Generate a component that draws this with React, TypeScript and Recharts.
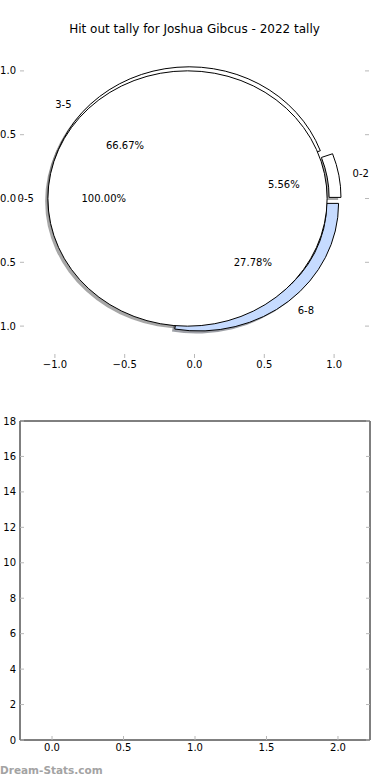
import React from 'react';
import { PieChart, Pie, Cell, ScatterChart, Scatter, XAxis, YAxis } from 'recharts';

const TITLE = 'Hit out tally for Joshua Gibcus - 2022 tally';
const WATERMARK = 'Dream-Stats.com';

const outerNames = ['0-2', '3-5', '6-8'];
const outerValues = [1, 12, 5];
const outerColors = ['#ffffff', '#ffffff', '#c6dbff'];
const innerNames = ['0-5'];
const innerValues = [18];
const innerColors = ['#ffffff'];

const pieTicks = [-1, -0.5, 0, 0.5, 1];
const barXTicks = [0, 0.5, 1, 1.5, 2];
const barYTicks = [0, 2, 4, 6, 8, 10, 12, 14, 16, 18];
const barPoints: { x: number; y: number }[] = [];

const outerData = outerNames.map((name, i) => ({ name, value: outerValues[i] }));
const innerData = innerNames.map((name, i) => ({ name, value: innerValues[i] }));

const W = 390;
const H = 390;
const FONT = '"DejaVu Sans", Verdana, sans-serif';
const GRAY = '#b8b8b8';

// top panel layout
const TOP_MARGIN = { top: 29, right: 20, bottom: 0, left: 0 };
const Y_W = 20;
const RY_W = 1;
const TOP_XH = 10;
const BOT_XH = 32;
const plotL = TOP_MARGIN.left + Y_W;
const plotR = W - TOP_MARGIN.right - RY_W;
const plotT = TOP_MARGIN.top + TOP_XH;
const plotB = H - TOP_MARGIN.bottom - BOT_XH;
const LIM = 1.25;
const PX_X = (plotR - plotL) / (2 * LIM);
const PX_Y = (plotB - plotT) / (2 * LIM);
const CX = (plotL + plotR) / 2;
const CY = (plotT + plotB) / 2;
const KY = PX_Y / PX_X;

// pie geometry (data units)
const R_OUT = 1.0;
const RING_W = 0.085;
const R_IN = 1.0;
const EXPLODE = 0.05;
const SHADOW = 0.02;
const LABEL_D = 1.1;
const PCT_D = 0.6;
const RAD = Math.PI / 180;

// bottom panel layout
const B_MARGIN = { top: 21, right: 19, bottom: 15, left: 0 };
const B_TOP_XH = 10;
const B_BOT_XH = 25;
const B_XDOMAIN: [number, number] = [-0.224, 2.224];

const fmtSigned = (v: number) => (v < 0 ? '\u2212' : '') + Math.abs(v).toFixed(1);

function sectorPath(cx: number, cy: number, r0: number, r1: number, a0: number, a1: number) {
  const pt = (r: number, a: number) => [cx + r * Math.cos(a * RAD), cy - r * KY * Math.sin(a * RAD)];
  const span = a1 - a0;
  if (span >= 359.999) {
    const full = (r: number, sweep: number) =>
      `M${cx + r},${cy} A${r},${r * KY} 0 1 ${sweep} ${cx - r},${cy} A${r},${r * KY} 0 1 ${sweep} ${cx + r},${cy} Z`;
    return r0 > 0 ? full(r1, 0) + ' ' + full(r0, 1) : full(r1, 0);
  }
  const large = span > 180 ? 1 : 0;
  const [x0, y0] = pt(r1, a0);
  const [x1, y1] = pt(r1, a1);
  let d = `M${x0},${y0} A${r1},${r1 * KY} 0 ${large} 0 ${x1},${y1}`;
  if (r0 > 0) {
    const [x2, y2] = pt(r0, a1);
    const [x3, y3] = pt(r0, a0);
    d += ` L${x2},${y2} A${r0},${r0 * KY} 0 ${large} 1 ${x3},${y3} Z`;
  } else {
    d += ` L${cx},${cy} Z`;
  }
  return d;
}

function shadowColor(hex: string) {
  const n = parseInt(hex.slice(1), 16);
  const r = Math.round(((n >> 16) & 255) * 0.3);
  const g = Math.round(((n >> 8) & 255) * 0.3);
  const b = Math.round((n & 255) * 0.3);
  return `rgb(${r},${g},${b})`;
}

const drawWedge = (shadow: boolean) => (props: any) => {
  const { cx, cy, innerRadius, outerRadius, startAngle, endAngle, fill } = props;
  const mid = (startAngle + endAngle) / 2;
  let ox = cx + EXPLODE * PX_X * Math.cos(mid * RAD);
  let oy = cy - EXPLODE * PX_Y * Math.sin(mid * RAD);
  if (shadow) {
    ox -= SHADOW * PX_X;
    oy += SHADOW * PX_Y;
  }
  const d = sectorPath(ox, oy, innerRadius, outerRadius, startAngle, endAngle);
  return shadow ? (
    <path d={d} fill={fill} fillOpacity={0.5} stroke="none" fillRule="evenodd" filter="url(#pieShadowBlur)" />
  ) : (
    <path d={d} fill={fill} stroke="#000" strokeWidth={1} fillRule="evenodd" />
  );
};

const noShape = () => <g />;

const renderLabel = (props: any) => {
  const { cx, cy, midAngle, outerRadius, percent } = props;
  const name = props.payload?.name ?? props.name;
  const c = Math.cos(midAngle * RAD);
  const s = Math.sin(midAngle * RAD);
  const r = outerRadius / PX_X;
  const ex = EXPLODE * c;
  const ey = EXPLODE * s;
  const lx = ex + LABEL_D * r * c;
  const ly = ey + LABEL_D * r * s;
  const px = ex + PCT_D * r * c;
  const py = ey + PCT_D * r * s;
  const style = { fontFamily: FONT, fontSize: 10, fill: '#000' };
  return (
    <g>
      <text x={cx + lx * PX_X} y={cy - ly * PX_Y} textAnchor={lx > 0 ? 'start' : 'end'} dominantBaseline="central" style={style}>
        {name}
      </text>
      <text x={cx + px * PX_X} y={cy - py * PX_Y} textAnchor="middle" dominantBaseline="central" style={style}>
        {(percent * 100).toFixed(2)}%
      </text>
    </g>
  );
};

const tickStyle = { fontFamily: FONT, fontSize: 10, fill: '#000' };

export default function App() {
  const outerPieProps = {
    cx: CX,
    cy: CY,
    innerRadius: (R_OUT - RING_W) * PX_X,
    outerRadius: R_OUT * PX_X,
    startAngle: 0,
    endAngle: 360,
    dataKey: 'value',
    nameKey: 'name',
    isAnimationActive: false,
    labelLine: false,
  };
  const innerPieProps = {
    cx: CX,
    cy: CY,
    innerRadius: 0,
    outerRadius: R_IN * PX_X,
    startAngle: 0,
    endAngle: 360,
    dataKey: 'value',
    nameKey: 'name',
    isAnimationActive: false,
    labelLine: false,
  };
  return (
    <div style={{ position: 'absolute', left: 0, top: 0, width: 390, height: 780, background: '#fff' }}>
      <svg width={0} height={0} style={{ position: 'absolute' }}>
        <defs>
          <filter id="pieShadowBlur" x="-10%" y="-10%" width="120%" height="120%">
            <feGaussianBlur stdDeviation="0.7" />
          </filter>
        </defs>
      </svg>
      <div
        style={{
          position: 'absolute',
          left: 0,
          top: 22,
          width: 2 * CX,
          textAlign: 'center',
          fontFamily: FONT,
          fontSize: 12,
          lineHeight: '15px',
          color: '#000',
          whiteSpace: 'nowrap',
        }}
      >
        {TITLE}
      </div>

      {/* top panel axes */}
      <div style={{ position: 'absolute', left: 0, top: 0 }}>
        <ScatterChart width={W} height={H} margin={TOP_MARGIN}>
          <XAxis
            xAxisId="b"
            type="number"
            dataKey="x"
            domain={[-LIM, LIM]}
            ticks={pieTicks}
            interval={0}
            allowDataOverflow
            height={BOT_XH}
            axisLine={false}
            tickLine={{ stroke: GRAY }}
            tickSize={-4}
            tickMargin={7}
            tickFormatter={fmtSigned}
            tick={tickStyle}
          />
          <XAxis
            xAxisId="t"
            orientation="top"
            type="number"
            domain={[-LIM, LIM]}
            ticks={pieTicks}
            interval={0}
            allowDataOverflow
            height={TOP_XH}
            axisLine={false}
            tickLine={{ stroke: GRAY }}
            tickSize={-4}
            tickFormatter={() => ''}
          />
          <YAxis
            yAxisId="l"
            type="number"
            dataKey="y"
            domain={[-LIM, LIM]}
            ticks={pieTicks}
            interval={0}
            allowDataOverflow
            width={Y_W}
            axisLine={false}
            tickLine={{ stroke: GRAY }}
            tickSize={-4}
            tickMargin={8}
            tickFormatter={fmtSigned}
            tick={tickStyle}
          />
          <YAxis
            yAxisId="r"
            orientation="right"
            type="number"
            domain={[-LIM, LIM]}
            ticks={pieTicks}
            interval={0}
            allowDataOverflow
            width={RY_W}
            axisLine={false}
            tickLine={{ stroke: GRAY }}
            tickSize={-4}
            tickFormatter={() => ''}
          />
          <Scatter xAxisId="b" yAxisId="l" data={barPoints} isAnimationActive={false} />
        </ScatterChart>
      </div>

      {/* top panel nested pie */}
      <div style={{ position: 'absolute', left: 0, top: 0, pointerEvents: 'none' }}>
        <PieChart width={W} height={H} margin={{ top: 0, right: 0, bottom: 0, left: 0 }}>
          <Pie {...outerPieProps} data={outerData} shape={drawWedge(true)} label={false}>
            {outerData.map((d, i) => (
              <Cell key={d.name} fill={shadowColor(outerColors[i])} />
            ))}
          </Pie>
          <Pie {...innerPieProps} data={innerData} shape={drawWedge(true)} label={false}>
            {innerData.map((d, i) => (
              <Cell key={d.name} fill={shadowColor(innerColors[i])} />
            ))}
          </Pie>
          <Pie {...outerPieProps} data={outerData} shape={drawWedge(false)} label={false}>
            {outerData.map((d, i) => (
              <Cell key={d.name} fill={outerColors[i]} />
            ))}
          </Pie>
          <Pie {...innerPieProps} data={innerData} shape={drawWedge(false)} label={renderLabel}>
            {innerData.map((d, i) => (
              <Cell key={d.name} fill={innerColors[i]} />
            ))}
          </Pie>
          <Pie {...outerPieProps} data={outerData} shape={noShape} label={renderLabel}>
            {outerData.map((d) => (
              <Cell key={d.name} fill="none" stroke="none" />
            ))}
          </Pie>
        </PieChart>
      </div>

      {/* bottom panel: empty axes */}
      <div style={{ position: 'absolute', left: 0, top: H }}>
        <ScatterChart width={W} height={H} margin={B_MARGIN}>
          <XAxis
            xAxisId="b"
            type="number"
            dataKey="x"
            domain={B_XDOMAIN}
            ticks={barXTicks}
            interval={0}
            allowDataOverflow
            height={B_BOT_XH}
            axisLine={{ stroke: '#000' }}
            tickLine={{ stroke: GRAY }}
            tickSize={-4}
            tickMargin={8}
            tickFormatter={(v: number) => v.toFixed(1)}
            tick={tickStyle}
          />
          <XAxis
            xAxisId="t"
            orientation="top"
            type="number"
            domain={B_XDOMAIN}
            ticks={barXTicks}
            interval={0}
            allowDataOverflow
            height={B_TOP_XH}
            axisLine={{ stroke: '#000' }}
            tickLine={{ stroke: GRAY }}
            tickSize={-4}
            tickFormatter={() => ''}
          />
          <YAxis
            yAxisId="l"
            type="number"
            dataKey="y"
            domain={[0, 18]}
            ticks={barYTicks}
            interval={0}
            allowDataOverflow
            width={Y_W}
            axisLine={{ stroke: '#000' }}
            tickLine={{ stroke: GRAY }}
            tickSize={-4}
            tickMargin={8}
            tick={tickStyle}
          />
          <YAxis
            yAxisId="r"
            orientation="right"
            type="number"
            domain={[0, 18]}
            ticks={barYTicks}
            interval={0}
            allowDataOverflow
            width={RY_W}
            axisLine={{ stroke: '#000' }}
            tickLine={{ stroke: GRAY }}
            tickSize={-4}
            tickFormatter={() => ''}
          />
          <Scatter xAxisId="b" yAxisId="l" data={barPoints} isAnimationActive={false} />
        </ScatterChart>
      </div>

      <div
        style={{
          position: 'absolute',
          left: 0,
          top: 763,
          fontFamily: FONT,
          fontSize: 10.5,
          fontWeight: 'bold',
          lineHeight: '14px',
          color: '#a3a3a3',
          whiteSpace: 'nowrap',
        }}
      >
        {WATERMARK}
      </div>
    </div>
  );
}
